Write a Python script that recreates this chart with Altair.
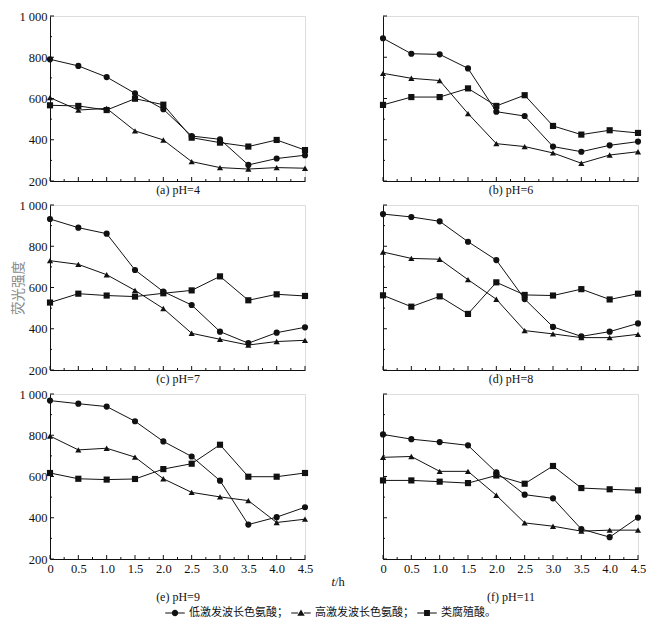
import altair as alt
import pandas as pd

# ---------------- data ----------------
t_values = [0, 0.5, 1.0, 1.5, 2.0, 2.5, 3.0, 3.5, 4.0, 4.5]
series_names = ["低激发波长色氨酸", "高激发波长色氨酸", "类腐殖酸"]
captions = ["(a) pH=4", "(b) pH=6", "(c) pH=7", "(d) pH=8", "(e) pH=9", "(f) pH=11"]

# low-excitation tryptophan (circles)
low_trp = [
    [790, 758, 704, 625, 548, 418, 402, 278, 309, 325],
    [892, 817, 814, 746, 536, 515, 367, 342, 373, 391],
    [932, 890, 861, 685, 580, 515, 386, 330, 381, 407],
    [956, 942, 921, 822, 733, 544, 409, 363, 386, 426],
    [968, 953, 939, 868, 770, 697, 580, 367, 403, 451],
    [804, 781, 767, 751, 620, 512, 494, 345, 306, 401],
]
# high-excitation tryptophan (triangles)
high_trp = [
    [604, 544, 552, 443, 399, 294, 265, 258, 265, 262],
    [722, 698, 687, 527, 381, 367, 336, 286, 326, 342],
    [730, 712, 662, 586, 498, 378, 349, 321, 338, 344],
    [772, 741, 737, 638, 543, 391, 375, 357, 357, 373],
    [796, 729, 737, 694, 589, 523, 501, 483, 377, 393],
    [693, 697, 625, 625, 509, 375, 359, 335, 340, 340],
]
# humic-like (squares)
humic = [
    [567, 564, 544, 599, 570, 410, 386, 367, 399, 350],
    [569, 607, 607, 649, 564, 616, 467, 425, 446, 433],
    [527, 570, 561, 556, 572, 586, 654, 538, 567, 559],
    [562, 507, 557, 472, 625, 564, 561, 592, 542, 570],
    [617, 589, 585, 588, 636, 662, 754, 599, 599, 617],
    [581, 581, 575, 568, 605, 565, 651, 544, 538, 533],
]

y_major = [200, 400, 600, 800, 1000]
y_minor = [300, 500, 700, 900]
x_major = t_values
x_minor = [0.25, 0.75, 1.25, 1.75, 2.25, 2.75, 3.25, 3.75, 4.25]

# ---------------- style ----------------
W, H = 255, 165
SERIF = "Liberation Serif"
CJK = "Noto Sans CJK SC"
INK = "#111111"

xscale = alt.Scale(domain=[0, 4.5], nice=False, zero=False)
yscale = alt.Scale(domain=[200, 1000], nice=False, zero=False)
shape_scale = alt.Scale(domain=series_names, range=["circle", "triangle-up", "square"])

# legend symbols: short line with the marker in the middle (all filled parts)
_seg = "M-1,-0.05L-0.3,-0.05L-0.3,0.05L-1,0.05ZM0.3,-0.05L1,-0.05L1,0.05L0.3,0.05Z"
legend_paths = [
    _seg + "M0.33,0A0.33,0.33,0,1,1,-0.33,0A0.33,0.33,0,1,1,0.33,0Z",
    _seg + "M0,-0.36L0.38,0.28L-0.38,0.28Z",
    _seg + "M-0.3,-0.3L0.3,-0.3L0.3,0.3L-0.3,0.3Z",
]


def panel(i):
    col, row = i % 2, i // 2
    bottom = row == 2
    left = col == 0
    recs = []
    for name, arr in zip(series_names, [low_trp[i], high_trp[i], humic[i]]):
        for t, v in zip(t_values, arr):
            recs.append({"t": t, "value": v, "series": name})
    df = pd.DataFrame(recs)

    xaxis = alt.Axis(
        values=x_major, ticks=False, labels=bottom,
        labelExpr="datum.value == 0 ? '0' : format(datum.value, '.1f')",
        labelPadding=3, labelFlush=False, labelFont=SERIF, labelFontSize=12.5,
        labelColor=INK, titleFont=SERIF, titleFontSize=12, titleFontWeight="normal",
        titleColor=INK, titlePadding=(17 if bottom else 3), domainColor=INK,
        domainWidth=1, grid=False,
    )
    ykw = dict(
        values=y_major, ticks=False, labels=left,
        labelExpr="datum.value == 1000 ? '1 000' : datum.label",
        labelPadding=3, labelFont=SERIF, labelFontSize=12.5, labelColor=INK,
        domainColor=INK, domainWidth=1, grid=False,
    )
    if i == 2:
        ykw.update(titleFont=CJK, titleFontSize=13.5, titleFontWeight="normal",
                   titleColor="#8a8a8a", titleX=-25, titleY=H / 2)
        ytitle = "荧光强度"
    else:
        ytitle = None
    yaxis = alt.Axis(**ykw)

    def X(field="t"):
        return alt.X(f"{field}:Q", scale=xscale, axis=xaxis, title=captions[i])

    def Y(field="value"):
        return alt.Y(f"{field}:Q", scale=yscale, axis=yaxis, title=ytitle)

    base = alt.Chart(df)
    lines = base.mark_line(color=INK, strokeWidth=1).encode(
        x=X(), y=Y(), detail="series:N")
    points = base.mark_point(filled=True, color=INK, opacity=1, size=38).encode(
        x=X(), y=Y(),
        shape=alt.Shape("series:N", scale=shape_scale, legend=None),
    )
    ymaj = alt.Chart(pd.DataFrame({"value": y_major})).mark_rule(color=INK).encode(
        y=Y(), x=alt.value(0), x2=alt.value(4))
    ymin = alt.Chart(pd.DataFrame({"value": y_minor})).mark_rule(color=INK).encode(
        y=Y(), x=alt.value(0), x2=alt.value(2))
    xmaj = alt.Chart(pd.DataFrame({"t": x_major})).mark_rule(color=INK).encode(
        x=X(), y=alt.value(H), y2=alt.value(H - 4))
    xmin = alt.Chart(pd.DataFrame({"t": x_minor})).mark_rule(color=INK).encode(
        x=X(), y=alt.value(H), y2=alt.value(H - 2))
    layers = [lines, points, ymaj, ymin, xmaj, xmin]
    if i == 4:
        lab_t = alt.Chart(pd.DataFrame({"s": ["t"]})).mark_text(
            font=SERIF, fontSize=12.5, fontStyle="italic", align="right", color=INK
        ).encode(text="s:N", x=alt.value(W + 30), y=alt.value(H + 23))
        lab_h = alt.Chart(pd.DataFrame({"s": ["/h"]})).mark_text(
            font=SERIF, fontSize=12.5, align="left", color=INK
        ).encode(text="s:N", x=alt.value(W + 30), y=alt.value(H + 23))
        legend_layer = alt.Chart(pd.DataFrame({"series_l": series_names})).mark_point(
            filled=True, fill=INK, color=INK, opacity=1
        ).encode(
            shape=alt.Shape(
                "series_l:N",
                scale=alt.Scale(domain=series_names, range=legend_paths),
                legend=alt.Legend(
                    title=None, orient="none", legendX=115, legendY=209,
                    direction="horizontal", columns=3,
                    labelExpr="datum.label + (datum.label == '类腐殖酸' ? '。' : '；')",
                    labelFont=CJK, labelFontSize=11, labelColor=INK,
                    symbolSize=380, symbolFillColor=INK, symbolStrokeColor=INK,
                    symbolStrokeWidth=0, symbolOpacity=1,
                    columnPadding=3, labelOffset=4,
                ),
            )
        ).transform_filter("false")
        layers += [lab_t, lab_h, legend_layer]
        return alt.layer(*layers).resolve_scale(shape="independent").properties(
            width=W, height=H)
    return alt.layer(*layers).properties(width=W, height=H)


panels = [panel(i) for i in range(6)]

chart = alt.concat(
    *panels, columns=2, spacing={"row": 24, "column": 78}, bounds="flush"
).resolve_scale(shape="independent").properties(
    padding={"left": 2, "top": 1, "right": 5, "bottom": 5}
).configure_view(stroke=None).configure(background="white")

chart.save("out.html", embed_options={"renderer": "svg", "actions": False})
